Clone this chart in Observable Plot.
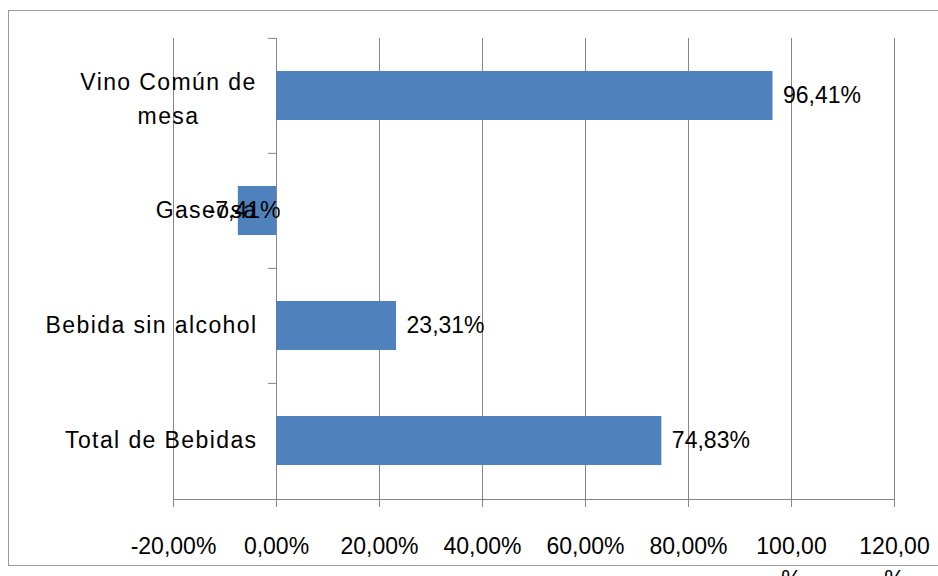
<!DOCTYPE html>
<html>
<head>
<meta charset="utf-8">
<script src="https://cdn.jsdelivr.net/npm/d3@7"></script>
<script src="https://cdn.jsdelivr.net/npm/@observablehq/plot@0.6"></script>
<style>
  html, body { margin: 0; padding: 0; background: #fff; }
  #wrap { position: relative; width: 938px; height: 576px; overflow: hidden; }
  #border { position: absolute; left: 8px; top: 10px; width: 940px; height: 556px; border: 1.5px solid #9a9a9a; box-sizing: border-box; pointer-events: none; }
</style>
</head>
<body>
<div id="wrap"><div id="border"></div></div>
<script>
const categories = ["Vino Común de mesa", "Gaseosa", "Bebida sin alcohol", "Total de Bebidas"];
const categoryLabels = ["Vino Común de\nmesa", "Gaseosa", "Bebida sin alcohol", "Total de Bebidas"];
const values = [96.41, -7.41, 23.31, 74.83];
const xTicks = [-20, 0, 20, 40, 60, 80, 100, 120];
const xTickLabels = ["-20,00%", "0,00%", "20,00%", "40,00%", "60,00%", "80,00%", "100,00\n%", "120,00\n%"];

const data = categories.map((c, i) => ({cat: c, value: values[i], label: values[i].toFixed(2).replace(".", ",") + "%"}));

const W = 938, H = 576, ML = 173, MR = 44, MT = 38, MB = 77;
const xDomain = [-20, 120];
const step = (H - MT - MB) / categories.length;
const zeroDx = (0 - xDomain[0]) / (xDomain[1] - xDomain[0]) * (W - ML - MR);
const gray = "#868686";
const font = "'Liberation Sans', Arial, sans-serif";

const chart = Plot.plot({
  width: W, height: H,
  marginLeft: ML, marginRight: MR, marginTop: MT, marginBottom: MB,
  style: {fontFamily: font, fontSize: "23px", color: "#000", background: "transparent"},
  x: {domain: xDomain},
  y: {type: "band", domain: categories, paddingInner: 0.57, paddingOuter: 0.285},
  marks: [
    Plot.ruleX(xTicks, {stroke: gray, strokeWidth: 1}),
    Plot.barX(data, {x: "value", y: "cat", fill: "#4F81BD"}),
    Plot.frame({anchor: "bottom", stroke: gray}),
    Plot.axisX({ticks: xTicks, tickSize: 8, tickPadding: 24, stroke: gray, fill: "#000",
      tickFormat: (d) => xTickLabels[xTicks.indexOf(d)], lineHeight: 1.4, label: null}),
    Plot.axisY({tickSize: 8, stroke: gray, fill: "none", dx: zeroDx, dy: -step / 2, label: null, tickFormat: () => ""}),
    Plot.axisY({ticks: categories.slice(1), tickSize: 0, tickPadding: 0, dx: 84, fill: "#000",
      textAnchor: "end", label: null, tickFormat: (d) => categoryLabels[categories.indexOf(d)]}),
    Plot.axisY({ticks: categories.slice(0, 1), tickSize: 0, tickPadding: 0, dx: -5, fill: "#000",
      textAnchor: "middle", lineHeight: 1.5, label: null, tickFormat: (d) => categoryLabels[categories.indexOf(d)]}),
    Plot.text(data.filter(d => d.value >= 0), {x: "value", y: "cat", text: "label", textAnchor: "start", dx: 10, fill: "#000"}),
    Plot.text(data.filter(d => d.value < 0), {x: () => 0, y: "cat", text: "label", textAnchor: "end", dx: 4, fill: "#000"})
  ]
});
d3.select(chart).selectAll('g[aria-label="y-axis tick label"] text').style("letter-spacing", "1.4px");
document.getElementById("wrap").prepend(chart);
</script>
</body>
</html>
